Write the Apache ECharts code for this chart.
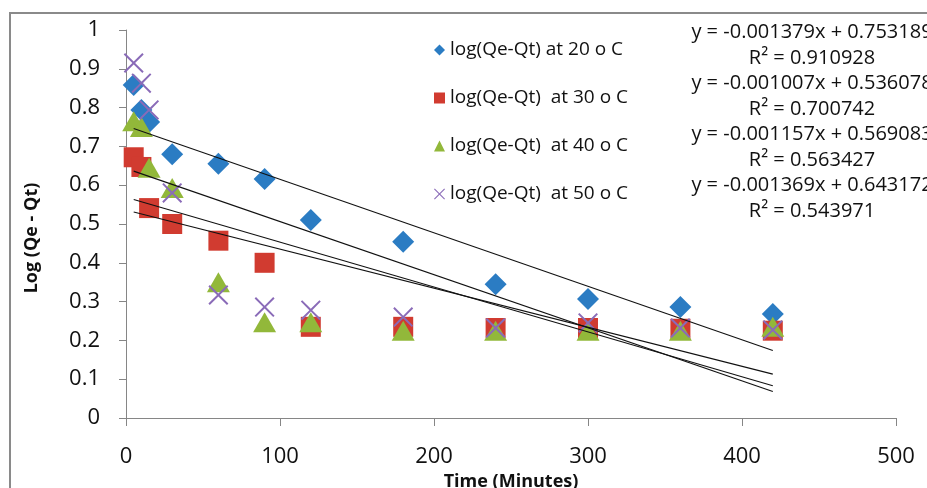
<!DOCTYPE html>
<html>
<head>
<meta charset="utf-8">
<script src="https://cdn.jsdelivr.net/npm/echarts@6/dist/echarts.min.js"></script>
<style>
  html, body { margin: 0; padding: 0; background: #fff; }
  #chart { width: 927px; height: 488px; }
</style>
</head>
<body>
<div id="chart"></div>
<script>
// ---- Data ----
var times = [5, 10, 15, 30, 60, 90, 120, 180, 240, 300, 360, 420];
var seriesNames = ['log(Qe-Qt) at 20 o C', 'log(Qe-Qt)  at 30 o C', 'log(Qe-Qt)  at 40 o C', 'log(Qe-Qt)  at 50 o C'];
var log20 = [0.858, 0.794, 0.763, 0.680, 0.655, 0.616, 0.510, 0.454, 0.345, 0.307, 0.286, 0.268];
var log30 = [0.672, 0.647, 0.541, 0.500, 0.457, 0.400, 0.235, 0.235, 0.232, 0.232, 0.230, 0.225];
var log40 = [0.765, 0.750, 0.645, 0.593, 0.350, 0.247, 0.247, 0.225, 0.225, 0.225, 0.225, 0.235];
var log50 = [0.915, 0.863, 0.794, 0.580, 0.317, 0.286, 0.278, 0.260, 0.232, 0.245, 0.232, 0.227];
var slopes = [-0.001379, -0.001007, -0.001157, -0.001369];
var intercepts = [0.753189, 0.536078, 0.569083, 0.643172];
var r2Values = ['0.910928', '0.700742', '0.563427', '0.543971'];
var trendRange = [5, 420];
var xTicks = [0, 100, 200, 300, 400, 500];
var yTicks = [0, 0.1, 0.2, 0.3, 0.4, 0.5, 0.6, 0.7, 0.8, 0.9, 1];

// ---- Styles ----
var colors = ['#2b7cc3', '#d13b30', '#92b83a', '#8a6bb8'];
var crossPath = 'path://M7,0L50,43L93,0L100,7L57,50L100,93L93,100L50,57L7,100L0,93L43,50L0,7Z';
var symbols = ['diamond', 'rect', 'triangle', crossPath];
var symbolSizes = [22, 20, [23, 20], 20];
var font = '"Open Sans", "Noto Sans", sans-serif';
var allData = [log20, log30, log40, log50];

var series = [];
allData.forEach(function (vals, i) {
  series.push({
    name: seriesNames[i],
    type: 'scatter',
    symbol: symbols[i],
    symbolSize: symbolSizes[i],
    itemStyle: { color: colors[i], opacity: 1 },
    data: times.map(function (t, j) { return [t, vals[j]]; }),
    z: 2
  });
});
slopes.forEach(function (m, i) {
  series.push({
    name: 'trend' + i,
    type: 'line',
    symbol: 'none',
    lineStyle: { color: '#111', width: 1.1 },
    data: trendRange.map(function (x) { return [x, m * x + intercepts[i]]; }),
    z: 3,
    silent: true
  });
});

var eqLines = [];
slopes.forEach(function (m, i) {
  eqLines.push('y = ' + m.toFixed(6) + 'x + ' + intercepts[i].toFixed(6));
  eqLines.push('R\u00B2 = ' + r2Values[i]);
});

var chart = echarts.init(document.getElementById('chart'), null, { renderer: 'canvas' });
chart.setOption({
  backgroundColor: '#fff',
  animation: false,
  grid: { left: 126, right: 31, top: 30, bottom: 70, containLabel: false, outerBoundsMode: 'none' },
  xAxis: {
    type: 'value', min: xTicks[0], max: xTicks[xTicks.length - 1], interval: 100,
    name: 'Time (Minutes)', nameLocation: 'middle', nameGap: 52,
    nameTextStyle: { fontFamily: font, fontWeight: 'bold', fontSize: 18, color: '#111' },
    axisLine: { lineStyle: { color: '#868686', width: 1 } },
    axisTick: { show: true, inside: false, length: 8, lineStyle: { color: '#868686' } },
    axisLabel: { fontFamily: font, fontSize: 22, color: '#111', margin: 28 },
    splitLine: { show: false }
  },
  yAxis: {
    type: 'value', min: yTicks[0], max: yTicks[yTicks.length - 1], interval: 0.1,
    name: 'Log (Qe - Qt)', nameLocation: 'middle', nameGap: 85, nameRotate: 90,
    nameTextStyle: { fontFamily: font, fontWeight: 'bold', fontSize: 18, color: '#111', padding: [0, 28, 0, 0] },
    axisLine: { show: true, lineStyle: { color: '#868686', width: 1 } },
    axisTick: { show: true, inside: false, length: 7, lineStyle: { color: '#868686' } },
    axisLabel: { fontFamily: font, fontSize: 22, color: '#111', margin: 26,
      formatter: function (v) { return String(Math.round(v * 10) / 10); } },
    splitLine: { show: false }
  },
  legend: {
    orient: 'vertical', left: 429, top: 35,
    data: seriesNames,
    itemWidth: 11, itemHeight: 11, itemGap: 28,
    textStyle: { fontFamily: font, fontSize: 19, color: '#111', lineHeight: 20 }
  },
  graphic: [
    { type: 'rect', shape: { x: 10, y: 13, width: 1000, height: 1000 },
      style: { fill: 'none', stroke: '#8a8a8a', lineWidth: 2 }, z: 0, silent: true },
    { type: 'text', x: 812, y: 20, z: 10, silent: true,
      style: { text: eqLines.join('\n'), fontFamily: font, fontSize: 20, fill: '#111',
        align: 'center', verticalAlign: 'top', lineHeight: 25.5 } }
  ],
  series: series
});
</script>
</body>
</html>
